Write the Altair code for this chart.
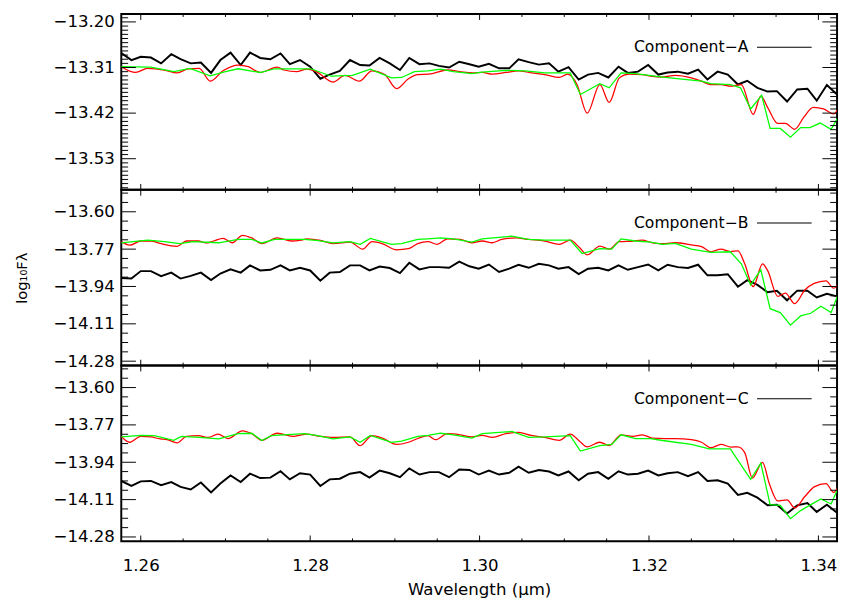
import altair as alt
import pandas as pd

# ---------------- data ----------------
X_DOMAIN = [1.2577, 1.3422]
X_MAJOR = [1.26, 1.28, 1.30, 1.32, 1.34]
X_MINOR = [1.265, 1.27, 1.275, 1.285, 1.29, 1.295, 1.305, 1.31, 1.315, 1.325, 1.33, 1.335]

Y_DOMAIN_A = [-13.605, -13.181]
Y_DOMAIN_BC = [-14.30, -13.50]
Y_MAJOR_A = [-13.20, -13.31, -13.42, -13.53]
Y_MAJOR_BC = [-13.60, -13.77, -13.94, -14.11, -14.28]
Y_MINOR_BC = [-13.515, -13.5575, -13.6425, -13.685, -13.7275, -13.8125, -13.855,
              -13.8975, -13.9825, -14.025, -14.0675, -14.1525, -14.195, -14.2375]

LABELS = ["Component\u2212A", "Component\u2212B", "Component\u2212C"]

WAVE = [1.2577, 1.2589, 1.2600, 1.2612, 1.2624, 1.2636, 1.2647, 1.2659, 1.2671, 1.2683,
        1.2694, 1.2706, 1.2718, 1.2729, 1.2741, 1.2753, 1.2765, 1.2776, 1.2788, 1.2800,
        1.2812, 1.2823, 1.2835, 1.2847, 1.2859, 1.2870, 1.2882, 1.2894, 1.2906, 1.2917,
        1.2929, 1.2941, 1.2952, 1.2964, 1.2976, 1.2988, 1.2999, 1.3011, 1.3023, 1.3035,
        1.3046, 1.3058, 1.3070, 1.3082, 1.3093, 1.3105, 1.3117, 1.3128, 1.3140, 1.3152,
        1.3164, 1.3175, 1.3187, 1.3199, 1.3211, 1.3222, 1.3234, 1.3246, 1.3258, 1.3269,
        1.3281, 1.3293, 1.3305, 1.3316, 1.3328, 1.3340, 1.3351, 1.3363, 1.3375, 1.3387,
        1.3398, 1.3410, 1.3422]

BLACK_A = [-13.275, -13.292, -13.284, -13.286, -13.300, -13.278, -13.290, -13.300, -13.298, -13.323,
           -13.292, -13.274, -13.304, -13.274, -13.287, -13.290, -13.276, -13.302, -13.292, -13.308,
           -13.337, -13.327, -13.318, -13.292, -13.304, -13.305, -13.287, -13.300, -13.316, -13.287,
           -13.302, -13.300, -13.306, -13.310, -13.296, -13.302, -13.308, -13.301, -13.312, -13.312,
           -13.290, -13.297, -13.303, -13.300, -13.320, -13.309, -13.339, -13.327, -13.323, -13.334,
           -13.308, -13.323, -13.320, -13.304, -13.327, -13.322, -13.320, -13.325, -13.315, -13.339,
           -13.320, -13.327, -13.351, -13.342, -13.359, -13.368, -13.367, -13.392, -13.363, -13.361,
           -13.390, -13.352, -13.375]
BLACK_B = [-13.901, -13.904, -13.870, -13.870, -13.893, -13.877, -13.904, -13.892, -13.877, -13.911,
           -13.881, -13.862, -13.877, -13.844, -13.867, -13.864, -13.844, -13.867, -13.855, -13.867,
           -13.914, -13.877, -13.874, -13.844, -13.844, -13.867, -13.849, -13.856, -13.879, -13.832,
           -13.862, -13.852, -13.852, -13.855, -13.827, -13.848, -13.859, -13.840, -13.874, -13.859,
           -13.841, -13.855, -13.837, -13.844, -13.859, -13.852, -13.884, -13.859, -13.855, -13.867,
           -13.844, -13.864, -13.852, -13.840, -13.867, -13.841, -13.852, -13.856, -13.841, -13.889,
           -13.889, -13.884, -13.941, -13.911, -13.933, -13.966, -13.960, -14.003, -13.959, -13.959,
           -13.990, -13.973, -13.985]
BLACK_C = [-14.025, -14.048, -14.027, -14.025, -14.044, -14.030, -14.052, -14.064, -14.032, -14.077,
           -14.037, -14.000, -14.030, -13.992, -14.012, -14.010, -13.981, -14.018, -13.990, -13.996,
           -14.048, -14.018, -14.015, -13.992, -13.985, -14.010, -13.978, -13.990, -14.008, -13.968,
           -13.996, -13.985, -13.985, -14.008, -13.973, -13.975, -13.996, -13.978, -13.996, -13.988,
           -13.960, -13.988, -13.975, -13.982, -14.000, -13.982, -14.022, -13.992, -13.985, -14.015,
           -13.981, -13.996, -13.992, -13.978, -14.000, -13.990, -13.985, -14.003, -13.985, -14.025,
           -14.022, -14.037, -14.089, -14.079, -14.101, -14.136, -14.133, -14.173, -14.136, -14.126,
           -14.166, -14.133, -14.170]

RED_A_W = [1.2577, 1.2594, 1.2608, 1.2628, 1.2643, 1.2656, 1.2669, 1.2682, 1.2697, 1.2715,
           1.2727, 1.2741, 1.2761, 1.2769, 1.2784, 1.2796, 1.2807, 1.2827, 1.2841, 1.2858,
           1.2873, 1.2888, 1.2902, 1.2916, 1.2927, 1.2940, 1.2962, 1.2977, 1.2992, 1.3003,
           1.3015, 1.3031, 1.3046, 1.3061, 1.3077, 1.3094, 1.3104, 1.3115, 1.3127, 1.3142,
           1.3153, 1.3165, 1.3176, 1.3192, 1.3202, 1.3216, 1.3231, 1.3250, 1.3262, 1.3273,
           1.3285, 1.3296, 1.3309, 1.3323, 1.3332, 1.3340, 1.3352, 1.3361, 1.3372, 1.3383,
           1.3394, 1.3406, 1.3418, 1.3423]
RED_A = [-13.308, -13.322, -13.312, -13.316, -13.323, -13.313, -13.312, -13.343, -13.318, -13.304,
         -13.308, -13.322, -13.309, -13.316, -13.320, -13.314, -13.320, -13.345, -13.329, -13.343,
         -13.318, -13.327, -13.361, -13.337, -13.327, -13.326, -13.316, -13.320, -13.323, -13.322,
         -13.326, -13.322, -13.318, -13.323, -13.327, -13.334, -13.326, -13.351, -13.420, -13.351,
         -13.394, -13.335, -13.326, -13.327, -13.331, -13.333, -13.329, -13.335, -13.343, -13.351,
         -13.351, -13.355, -13.351, -13.423, -13.379, -13.406, -13.445, -13.445, -13.459, -13.429,
         -13.406, -13.410, -13.422, -13.410]
GREEN_A_W = [1.2577, 1.2612, 1.2639, 1.2658, 1.2682, 1.2700, 1.2715, 1.2741, 1.2758, 1.2801,
             1.2825, 1.2850, 1.2871, 1.2896, 1.2908, 1.2923, 1.2939, 1.2954, 1.2969, 1.2991,
             1.3003, 1.3031, 1.3054, 1.3077, 1.3107, 1.3119, 1.3142, 1.3153, 1.3167, 1.3184,
             1.3216, 1.3262, 1.3273, 1.3296, 1.3308, 1.3320, 1.3333, 1.3343, 1.3355, 1.3367,
             1.3379, 1.3390, 1.3402, 1.3415, 1.3423]
GREEN_A = [-13.308, -13.309, -13.320, -13.312, -13.330, -13.320, -13.313, -13.322, -13.313, -13.313,
           -13.331, -13.329, -13.314, -13.335, -13.334, -13.320, -13.318, -13.314, -13.320, -13.325,
           -13.321, -13.317, -13.318, -13.323, -13.323, -13.375, -13.349, -13.359, -13.323, -13.325,
           -13.333, -13.343, -13.349, -13.351, -13.359, -13.410, -13.377, -13.457, -13.457, -13.478,
           -13.455, -13.455, -13.444, -13.459, -13.431]

RED_B_W = [1.2577, 1.2587, 1.2600, 1.2612, 1.2623, 1.2643, 1.2654, 1.2668, 1.2677, 1.2686,
           1.2697, 1.2708, 1.2720, 1.2731, 1.2743, 1.2761, 1.2778, 1.2789, 1.2796, 1.2812,
           1.2827, 1.2847, 1.2862, 1.2873, 1.2885, 1.2902, 1.2916, 1.2927, 1.2939, 1.2950,
           1.2962, 1.2977, 1.2991, 1.3003, 1.3015, 1.3026, 1.3043, 1.3058, 1.3077, 1.3094,
           1.3107, 1.3118, 1.3127, 1.3142, 1.3153, 1.3165, 1.3181, 1.3192, 1.3204, 1.3219,
           1.3231, 1.3250, 1.3262, 1.3273, 1.3285, 1.3296, 1.3305, 1.3313, 1.3323, 1.3334,
           1.3340, 1.3352, 1.3361, 1.3372, 1.3384, 1.3395, 1.3409, 1.3418, 1.3423]
RED_B = [-13.736, -13.752, -13.733, -13.733, -13.744, -13.757, -13.733, -13.733, -13.742, -13.733,
         -13.721, -13.741, -13.707, -13.719, -13.745, -13.719, -13.733, -13.729, -13.723, -13.730,
         -13.745, -13.738, -13.770, -13.736, -13.745, -13.773, -13.768, -13.745, -13.736, -13.748,
         -13.723, -13.726, -13.741, -13.733, -13.741, -13.726, -13.719, -13.726, -13.733, -13.748,
         -13.729, -13.763, -13.796, -13.756, -13.770, -13.736, -13.733, -13.729, -13.741, -13.745,
         -13.741, -13.751, -13.759, -13.782, -13.770, -13.781, -13.778, -13.837, -13.941, -13.837,
         -13.867, -13.985, -13.970, -14.018, -13.956, -13.926, -13.914, -13.948, -13.933]
GREEN_B_W = [1.2577, 1.2608, 1.2628, 1.2646, 1.2662, 1.2692, 1.2715, 1.2731, 1.2743, 1.2758,
             1.2793, 1.2807, 1.2827, 1.2847, 1.2859, 1.2871, 1.2896, 1.2908, 1.2927, 1.2939,
             1.2954, 1.2969, 1.2991, 1.3003, 1.3038, 1.3058, 1.3077, 1.3107, 1.3121, 1.3142,
             1.3156, 1.3167, 1.3184, 1.3202, 1.3216, 1.3231, 1.3250, 1.3273, 1.3296, 1.3309,
             1.3320, 1.3332, 1.3343, 1.3355, 1.3367, 1.3379, 1.3391, 1.3403, 1.3415, 1.3423]
GREEN_B = [-13.741, -13.729, -13.736, -13.745, -13.736, -13.741, -13.726, -13.726, -13.742, -13.726,
           -13.726, -13.730, -13.741, -13.736, -13.748, -13.721, -13.748, -13.745, -13.726, -13.723,
           -13.719, -13.723, -13.738, -13.723, -13.711, -13.726, -13.729, -13.729, -13.790, -13.768,
           -13.770, -13.723, -13.733, -13.738, -13.748, -13.744, -13.770, -13.785, -13.782, -13.837,
           -13.933, -13.864, -14.041, -14.059, -14.116, -14.074, -14.062, -14.030, -14.059, -13.978]

RED_C_W = [1.2577, 1.2587, 1.2600, 1.2612, 1.2623, 1.2631, 1.2643, 1.2654, 1.2668, 1.2680,
           1.2691, 1.2703, 1.2720, 1.2731, 1.2743, 1.2761, 1.2781, 1.2796, 1.2812, 1.2827,
           1.2847, 1.2859, 1.2873, 1.2885, 1.2902, 1.2916, 1.2927, 1.2939, 1.2948, 1.2962,
           1.2977, 1.2991, 1.3003, 1.3015, 1.3031, 1.3046, 1.3061, 1.3077, 1.3094, 1.3107,
           1.3118, 1.3127, 1.3142, 1.3153, 1.3167, 1.3181, 1.3192, 1.3204, 1.3219, 1.3231,
           1.3250, 1.3262, 1.3273, 1.3285, 1.3297, 1.3305, 1.3313, 1.3322, 1.3334, 1.3342,
           1.3352, 1.3363, 1.3372, 1.3384, 1.3395, 1.3409, 1.3418, 1.3423]
RED_C = [-13.822, -13.849, -13.822, -13.825, -13.834, -13.837, -13.852, -13.822, -13.819, -13.827,
         -13.812, -13.832, -13.797, -13.810, -13.840, -13.808, -13.822, -13.812, -13.822, -13.827,
         -13.825, -13.864, -13.819, -13.830, -13.859, -13.849, -13.832, -13.819, -13.837, -13.810,
         -13.815, -13.825, -13.818, -13.827, -13.810, -13.804, -13.818, -13.827, -13.840, -13.812,
         -13.844, -13.870, -13.849, -13.864, -13.815, -13.822, -13.815, -13.830, -13.832, -13.832,
         -13.837, -13.849, -13.874, -13.859, -13.871, -13.870, -13.896, -14.012, -13.941, -14.037,
         -14.116, -14.111, -14.148, -14.096, -14.052, -14.037, -14.077, -14.053]
GREEN_C_W = [1.2577, 1.2600, 1.2616, 1.2639, 1.2648, 1.2669, 1.2692, 1.2715, 1.2731, 1.2743,
             1.2754, 1.2793, 1.2807, 1.2827, 1.2847, 1.2859, 1.2871, 1.2896, 1.2908, 1.2927,
             1.2939, 1.2954, 1.2969, 1.2991, 1.3003, 1.3038, 1.3058, 1.3077, 1.3107, 1.3119,
             1.3142, 1.3156, 1.3167, 1.3184, 1.3202, 1.3216, 1.3250, 1.3271, 1.3296, 1.3320,
             1.3332, 1.3343, 1.3355, 1.3367, 1.3379, 1.3391, 1.3403, 1.3415, 1.3423]
GREEN_C = [-13.825, -13.818, -13.819, -13.840, -13.822, -13.827, -13.834, -13.810, -13.808, -13.841,
           -13.819, -13.810, -13.818, -13.834, -13.825, -13.849, -13.818, -13.849, -13.844, -13.822,
           -13.818, -13.808, -13.815, -13.830, -13.810, -13.800, -13.827, -13.825, -13.819, -13.889,
           -13.864, -13.859, -13.815, -13.832, -13.832, -13.841, -13.859, -13.879, -13.879, -14.018,
           -13.944, -14.133, -14.136, -14.197, -14.160, -14.133, -14.107, -14.130, -14.059]

for a, b in [(WAVE, BLACK_A), (WAVE, BLACK_B), (WAVE, BLACK_C), (RED_A_W, RED_A),
             (GREEN_A_W, GREEN_A), (RED_B_W, RED_B), (GREEN_B_W, GREEN_B),
             (RED_C_W, RED_C), (GREEN_C_W, GREEN_C)]:
    assert len(a) == len(b), (len(a), len(b))

# minor ticks of the top panel: every 0.01
Y_MINOR_A = [round(-13.19 - 0.01 * k, 2) for k in range(42)]
Y_MINOR_A = [v for v in Y_MINOR_A if all(abs(v - m) > 1e-6 for m in Y_MAJOR_A)]

# ---------------- layout ----------------
W, H = 733, 180
FONT = "DejaVu Sans"
MINUS_LABEL = "'\u2212' + format(abs(datum.value), '.2f')"


def panel(i, bw, bv, rw, rv, gw, gv, ydom, ymaj, ymin, show_x, ytitle):
    xs = alt.Scale(domain=X_DOMAIN, nice=False, zero=False)
    ys = alt.Scale(domain=ydom, nice=False, zero=False)

    yaxis_kw = dict(values=ymaj, labelExpr=MINUS_LABEL, labelPadding=7, tickSize=0,
                    ticks=False, domain=False, grid=False,
                    labelFont=FONT, labelFontSize=17, labelColor="black")
    if ytitle:
        yaxis_kw.update(title=ytitle, titleFontSize=15, titlePadding=24, titleFont=FONT,
                        titleColor="black", titleFontWeight="normal")
    else:
        yaxis_kw.update(title=None)
    yaxis = alt.Axis(**yaxis_kw)
    if show_x:
        xaxis = alt.Axis(values=X_MAJOR, format=".2f", title="Wavelength (\u03bcm)",
                         labelPadding=17, titlePadding=8, tickSize=0, ticks=False,
                         domain=False, grid=False, labelFont=FONT, labelFontSize=17,
                         labelColor="black", titleFont=FONT, titleFontSize=17,
                         titleColor="black", titleFontWeight="normal")
    else:
        xaxis = None

    def X(field):
        return alt.X(field, scale=xs, axis=xaxis)

    def Y(field):
        return alt.Y(field, scale=ys, axis=yaxis)

    black = alt.Chart(pd.DataFrame({"w": bw, "v": bv})).mark_line(
        color="#000000", strokeWidth=2, clip=True).encode(x=X("w:Q"), y=Y("v:Q"))
    red = alt.Chart(pd.DataFrame({"w": rw, "v": rv})).mark_line(
        color="#ff0000", strokeWidth=1.3, interpolate="monotone", clip=True).encode(
        x=X("w:Q"), y=Y("v:Q"))
    green = alt.Chart(pd.DataFrame({"w": gw, "v": gv})).mark_line(
        color="#00ff00", strokeWidth=1.3, clip=True).encode(x=X("w:Q"), y=Y("v:Q"))

    layers = [black, red, green]

    # inward ticks
    for vals, ln in [(X_MAJOR, 6), (X_MINOR, 3)]:
        d = pd.DataFrame({"w": vals})
        layers.append(alt.Chart(d).mark_rule(color="black", strokeWidth=1).encode(
            x=X("w:Q"), y=alt.value(0), y2=alt.value(ln)))
        layers.append(alt.Chart(d).mark_rule(color="black", strokeWidth=1).encode(
            x=X("w:Q"), y=alt.value(H - ln), y2=alt.value(H)))
    for vals, ln in [(ymaj, 15), (ymin, 7)]:
        d = pd.DataFrame({"v": vals})
        layers.append(alt.Chart(d).mark_rule(color="black", strokeWidth=1).encode(
            y=Y("v:Q"), x=alt.value(0), x2=alt.value(ln)))
        layers.append(alt.Chart(d).mark_rule(color="black", strokeWidth=1).encode(
            y=Y("v:Q"), x=alt.value(W - ln), x2=alt.value(W)))

    # legend entry
    lab = pd.DataFrame({"label": [LABELS[i]]})
    layers.append(alt.Chart(lab).mark_text(
        align="left", baseline="middle", font=FONT, fontSize=16, color="black").encode(
        text="label:N", x=alt.value(525), y=alt.value(34)))
    layers.append(alt.Chart(lab).mark_rule(color="black", strokeWidth=1.2).encode(
        x=alt.value(651), x2=alt.value(707), y=alt.value(34)))

    return alt.layer(*layers).properties(width=W, height=H)


p1 = panel(0, WAVE, BLACK_A, RED_A_W, RED_A, GREEN_A_W, GREEN_A,
           Y_DOMAIN_A, Y_MAJOR_A, Y_MINOR_A, False, None)
p2 = panel(1, WAVE, BLACK_B, RED_B_W, RED_B, GREEN_B_W, GREEN_B,
           Y_DOMAIN_BC, Y_MAJOR_BC, Y_MINOR_BC, False, "log\u2081\u2080F\u03bb")
p3 = panel(2, WAVE, BLACK_C, RED_C_W, RED_C, GREEN_C_W, GREEN_C,
           Y_DOMAIN_BC, Y_MAJOR_BC, Y_MINOR_BC, True, None)

chart = alt.vconcat(p1, p2, p3, spacing=0, bounds="flush").properties(
    padding={"left": 6, "top": -3, "right": 0, "bottom": 0},
    background="white",
).configure_view(
    stroke="black", strokeWidth=2
)

chart.save("out.html", embed_options={"renderer": "svg", "actions": False})
